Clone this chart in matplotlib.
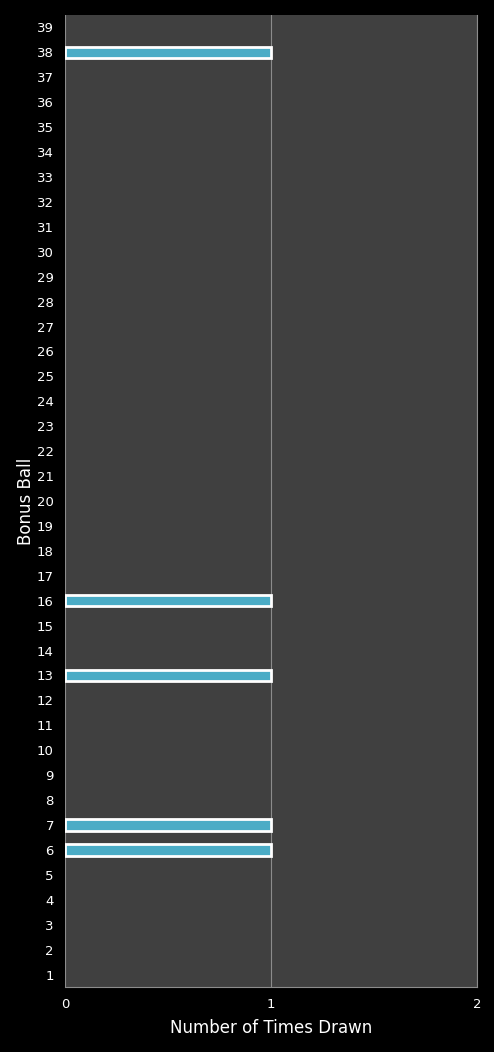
import matplotlib
matplotlib.use("Agg")
import matplotlib.pyplot as plt

balls = list(range(1, 40))
drawn_balls = [6, 7, 13, 16, 38]
counts = [1 if b in drawn_balls else 0 for b in balls]
x_ticks = [0, 1, 2]

fig = plt.figure(figsize=(4.94, 10.52), dpi=100, facecolor="black")
ax = fig.add_axes([65/494, 1-987/1052, (477-65)/494, (987-15)/1052])
ax.set_facecolor("#404040")

edges = ["white" if c > 0 else "none" for c in counts]
ax.barh(balls, counts, height=0.45, color="#4BACC6", edgecolor=edges, linewidth=2, zorder=3)

ax.set_xlim(0, 2)
ax.set_ylim(0.5, 39.5)
ax.set_xticks(x_ticks)
ax.set_yticks(balls)
ax.tick_params(colors="white", labelsize=9.5, length=0, pad=8)
ax.xaxis.grid(True, color="#8c8c8c", linewidth=0.8)
ax.set_axisbelow(True)
for side in ["left", "top"]:
    ax.spines[side].set_visible(False)
for side in ["right", "bottom"]:
    ax.spines[side].set_color("#8c8c8c")
ax.set_xlabel("Number of Times Drawn", color="white", fontsize=12, labelpad=6)
ax.set_ylabel("Bonus Ball", color="white", fontsize=12, labelpad=1)

fig.savefig("out.png", facecolor="black", dpi=100)
